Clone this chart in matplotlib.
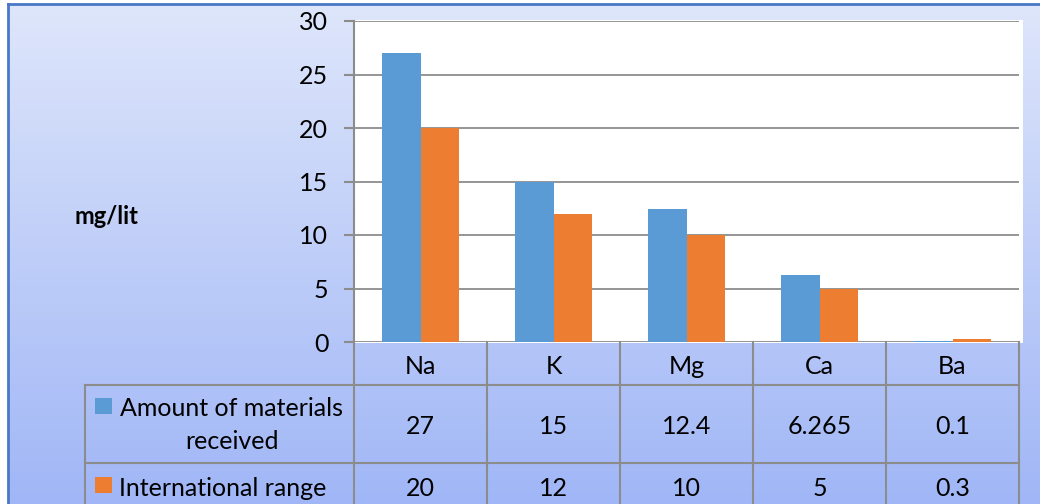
import numpy as np
import matplotlib
matplotlib.use("Agg")
import matplotlib.pyplot as plt
import matplotlib.transforms as mtransforms
from matplotlib.patches import Rectangle
from matplotlib.lines import Line2D

# ---- data ----
categories = ["Na", "K", "Mg", "Ca", "Ba"]
received = [27, 15, 12.4, 6.265, 0.1]
international = [20, 12, 10, 5, 0.3]
series_names = ["Amount of materials\nreceived", "International range"]
received_labels = ["27", "15", "12.4", "6.265", "0.1"]
international_labels = ["20", "12", "10", "5", "0.3"]
yticks = [0, 5, 10, 15, 20, 25, 30]

BLUE = "#5b9bd5"
ORANGE = "#ed7d31"
GRID = "#8c8c8c"
FONT = ["Lato", "DejaVu Sans"]
plt.rcParams["font.family"] = FONT
FS = 18

W, H = 1040, 504
fig = plt.figure(figsize=(W / 100, H / 100), dpi=100)
fig.patch.set_facecolor("white")


def fx(x):
    return x / W


def fy(y):
    return 1 - y / H


# ---- gradient background ----
bg = fig.add_axes([0, 0, 1, 1], zorder=0)
bg.set_xlim(0, W)
bg.set_ylim(H, 0)
bg.axis("off")
top = np.array([222, 230, 251]) / 255
bot = np.array([160, 182, 246]) / 255
t = np.linspace(0, 1, 256)[:, None]
grad = top[None, :] * (1 - t) + bot[None, :] * t
grad = np.repeat(grad[:, None, :], 4, axis=1)
bg.imshow(grad, extent=[8, W, H, 5], aspect="auto", zorder=0)
# outer border (blue)
bg.add_line(Line2D([7.5, 7.5], [4, H], color="#4a78c8", lw=2.0, zorder=2))
bg.add_line(Line2D([7.5, W], [4, 4], color="#4a78c8", lw=2.0, zorder=2))
# white plot backdrop slightly larger than axes
bg.add_patch(Rectangle((354, 20), 669, 323, facecolor="white", edgecolor="none", zorder=1))

# ---- main axes ----
ax = fig.add_axes([fx(354), fy(342), fx(1019) - fx(354), (342 - 21) / H], zorder=2)
ax.set_facecolor("white")
x = np.arange(len(categories))
bw = 0.286
ax.bar(x - bw / 2, received, width=bw, color=BLUE, zorder=3)
ax.bar(x + bw / 2, international, width=bw, color=ORANGE, zorder=3)
ax.set_xlim(-0.5, len(categories) - 0.5)
ax.set_ylim(0, 30)
ax.set_yticks(yticks)
ax.set_yticklabels([str(v) for v in yticks], fontsize=FS, color="black")
ax.tick_params(axis="y", length=7.5, width=1.5, color=GRID, pad=11)
ax.set_xticks([])
ax.yaxis.grid(True, color=GRID, lw=1.3, zorder=1)
ax.set_axisbelow(True)
for s in ["top", "right", "bottom"]:
    ax.spines[s].set_visible(False)
ax.spines["left"].set_color(GRID)
ax.spines["left"].set_linewidth(1.5)

fig.text(fx(106), fy(216), "mg/lit", fontsize=17, fontweight="bold",
         ha="center", va="center", color="black")

# ---- data table ----
tr = mtransforms.blended_transform_factory(ax.transData, fig.transFigure)
y_top, y_r1, y_r2, y_bot = fy(342), fy(385), fy(463), fy(515)
lkw = dict(color=GRID, lw=1.5, clip_on=False, zorder=5)
# verticals at category boundaries
for b in np.arange(len(categories) + 1) - 0.5:
    ax.add_line(Line2D([b, b], [y_top, y_bot], transform=tr, **lkw))
# horizontals
fig.add_artist(Line2D([fx(85), fx(1019)], [y_r1, y_r1], **lkw))
fig.add_artist(Line2D([fx(85), fx(1019)], [y_r2, y_r2], **lkw))
fig.add_artist(Line2D([fx(85), fx(85)], [y_r1, y_bot], **lkw))

for i, c in enumerate(categories):
    ax.text(i, fy(366), c, transform=tr, ha="center", va="center", fontsize=FS)
    ax.text(i, fy(426), received_labels[i], transform=tr, ha="center", va="center", fontsize=FS)
    ax.text(i, fy(488), international_labels[i], transform=tr, ha="center", va="center", fontsize=FS)

# row headers with legend keys
fig.add_artist(Rectangle((fx(95), fy(414)), fx(17), 16 / H, facecolor=BLUE,
                         edgecolor="none", transform=fig.transFigure))
fig.text(fx(232), fy(425), series_names[0], ha="center", va="center",
         multialignment="center", fontsize=FS, linespacing=1.55)
fig.add_artist(Rectangle((fx(95), fy(493)), fx(17), 16 / H, facecolor=ORANGE,
                         edgecolor="none", transform=fig.transFigure))
fig.text(fx(119), fy(488), series_names[1], ha="left", va="center", fontsize=FS)

fig.savefig("out.png", dpi=100)
